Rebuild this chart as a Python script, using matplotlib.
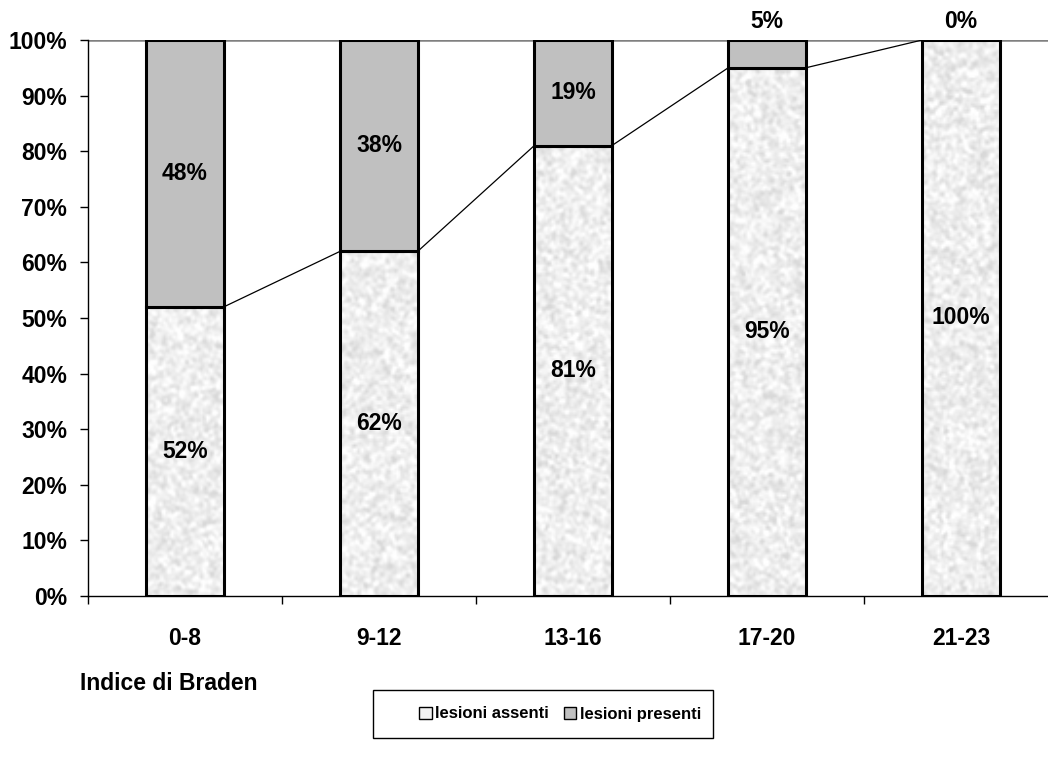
import matplotlib
matplotlib.use("Agg")
import matplotlib.pyplot as plt
import numpy as np
from matplotlib.patches import Patch, Rectangle

categories = ["0-8", "9-12", "13-16", "17-20", "21-23"]
assenti = [52, 62, 81, 95, 100]
presenti = [48, 38, 19, 5, 0]
labels = ["lesioni assenti", "lesioni presenti"]

width = 0.4
fs = 16.5

plt.rcParams['font.family'] = ['Liberation Sans', 'DejaVu Sans']
plt.rcParams['font.weight'] = 'bold'


def granite(h, w, seed):
    # light speckled fill, like the old office "granite" pattern
    rng = np.random.default_rng(seed)
    z = rng.normal(size=(h, w))
    k = np.array([0.25, 0.5, 0.25])
    z = np.apply_along_axis(lambda r: np.convolve(r, k, mode='same'), 1, z)
    z = np.apply_along_axis(lambda c: np.convolve(c, k, mode='same'), 0, z)
    z = np.clip(z / z.std(), -2.5, 2.5)
    g = 0.935 + 0.035 * z
    g = np.clip(g, 0.84, 1.0)
    return np.dstack([g, g, g])


fig = plt.figure(figsize=(10.48, 7.67), dpi=100)
ax = fig.add_axes([88 / 1048, 1 - 596 / 767, 970 / 1048, 556 / 767])

x = np.arange(len(categories))
ax.axhline(100, color='#808080', lw=1.8, zorder=1)

for i in x:
    a, p = assenti[i], presenti[i]
    tex = granite(int(a * 2.8), 40, i + 3)
    ax.imshow(tex, extent=(i - width / 2, i + width / 2, 0, a), aspect='auto',
              interpolation='bilinear', zorder=2)
    ax.add_patch(Rectangle((i - width / 2, 0), width, a, fill=False,
                           edgecolor='black', lw=2.2, zorder=3))
    if p > 0:
        ax.add_patch(Rectangle((i - width / 2, a), width, p, facecolor='#c0c0c0',
                               edgecolor='black', lw=2.2, zorder=3))

    ax.text(i, a / 2, f"{a}%", ha='center', va='center', fontsize=fs,
            fontweight='bold', zorder=4)
    if p >= 10:
        ax.text(i, a + p / 2, f"{p}%", ha='center', va='center', fontsize=fs,
                fontweight='bold', zorder=4)
    else:
        ax.text(i, 103.3, f"{p}%", ha='center', va='center', fontsize=fs,
                fontweight='bold', clip_on=False, zorder=4)

# series lines between the tops of the lower segments
for i in x[:-1]:
    ax.plot([i + width / 2, i + 1 - width / 2], [assenti[i], assenti[i + 1]],
            color='black', lw=0.9, zorder=2)

ax.set_xlim(-0.5, len(categories) - 0.5)
ax.set_ylim(0, 100)
ax.set_yticks(np.arange(0, 101, 10))
ax.set_yticklabels([f"{v}%" for v in range(0, 101, 10)])
ax.set_xticks(x)
ax.set_xticklabels(categories)
ax.set_xticks(np.arange(-0.5, len(categories), 1), minor=True)
ax.tick_params(axis='x', which='major', length=0, pad=22, labelsize=fs)
ax.tick_params(axis='x', which='minor', length=6, width=1, direction='out')
ax.tick_params(axis='y', length=6, width=1, direction='out', pad=9, labelsize=fs)
for t in ax.get_xticklabels() + ax.get_yticklabels():
    t.set_fontweight('bold')

for s in ['top', 'right']:
    ax.spines[s].set_visible(False)
ax.spines['left'].set_linewidth(1)
ax.spines['bottom'].set_linewidth(1)
ax.spines['left'].set_bounds(0, 100)

fig.text(80 / 1048, 1 - 684 / 767, "Indice di Braden", ha='left', va='center',
         fontsize=fs, fontweight='bold')

# legend frame drawn by hand so its padding can be uneven
fig.add_artist(Rectangle((373 / 1048, 1 - 738 / 767), 340 / 1048, 48 / 767,
                         transform=fig.transFigure, fill=False,
                         edgecolor='black', lw=1))
handles = [Patch(facecolor='#f2f2f2', edgecolor='black', lw=1),
           Patch(facecolor='#c0c0c0', edgecolor='black', lw=1)]
leg = fig.legend(handles, labels, loc='center', bbox_to_anchor=(560 / 1048, 1 - 714 / 767),
                 ncol=2, frameon=False,
                 handlelength=0.75, handleheight=0.75, handletextpad=0.2,
                 columnspacing=0.9, borderpad=0.2, prop={'weight': 'bold', 'size': 12})

fig.savefig("out.png", dpi=100)
